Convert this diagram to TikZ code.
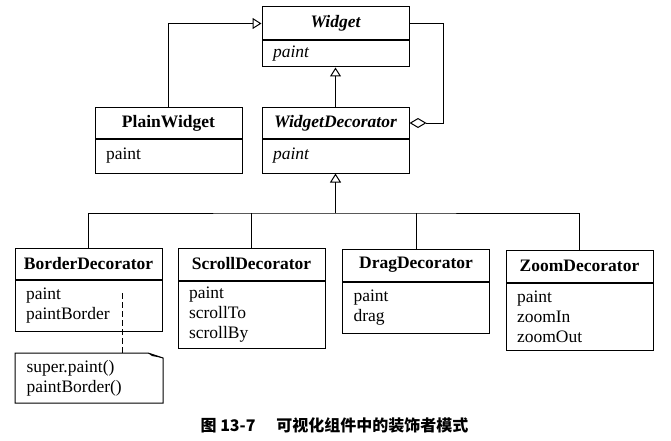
\documentclass[tikz,border=0pt]{standalone}
\usepackage{fontspec}
\setmainfont{Liberation Serif}
\newfontfamily\cjk{Noto Sans CJK SC}
\usetikzlibrary{positioning,arrows.meta}
\begin{document}
\fontsize{17.5}{20}\selectfont%
\begin{tikzpicture}[x=1pt, y=-1pt, line width=1pt,
  cls/.style={draw, minimum width=147pt, minimum height=32pt, inner sep=0pt, font=\bfseries},
  abstract/.style={cls, font=\bfseries\itshape},
  ops/.style={draw, text width=125pt, inner xsep=11pt, inner ysep=0pt, align=left},
  inherit/.style={-{Triangle[open, length=9pt, width=11pt]}},
  aggr/.style={{Diamond[open, length=17pt, width=10pt]}-}]
  \useasboundingbox (0,0) rectangle (671,441);

  % classes
  \node[abstract, minimum height=33pt] (widget) at (335.5,23.5) {Widget};
  \node[ops, minimum height=26pt, below=0pt of widget] (widget-ops) {\textit{paint}};
  \node[cls, minimum height=30pt] (plain) at (168.5,123) {PlainWidget};
  \node[ops, minimum height=34pt, below=0pt of plain] (plain-ops) {paint};
  \node[abstract, minimum height=30pt] (deco) at (335.5,123) {WidgetDecorator};
  \node[ops, minimum height=34pt, below=0pt of deco] (deco-ops) {\textit{paint}};

  \node[cls, minimum height=31pt] (border) at (88.5,263.5) {BorderDecorator};
  \node[ops, minimum height=51pt, below=0pt of border] (border-ops) {paint\\paintBorder};
  \node[cls] (scroll) at (251.5,264) {ScrollDecorator};
  \node[ops, minimum height=67pt, below=0pt of scroll] (scroll-ops) {paint\\scrollTo\\scrollBy};
  \node[cls] (drag) at (416,265) {DragDecorator};
  \node[ops, minimum height=51pt, below=0pt of drag] (drag-ops) {paint\\drag};
  \node[cls] (zoom) at (579.5,266) {ZoomDecorator};
  \node[ops, minimum height=67pt, below=0pt of zoom] (zoom-ops) {paint\\zoomIn\\zoomOut};

  % note
  \node[text width=125pt, inner xsep=11pt, inner ysep=0pt, minimum height=49pt, align=left, anchor=north west] (note) at (15,353) {super.paint()\\paintBorder()};
  \draw (note.north west) -- ([xshift=-15pt]note.north east) -- ([yshift=-5pt]note.north east)
    -- (note.south east) -- (note.south west) -- cycle;
  \fill ([xshift=-15pt]note.north east) -- ([yshift=-5pt]note.north east) -- ([xshift=-11pt,yshift=-3pt]note.north east) -- cycle;

  % connectors
  \draw[inherit] (plain.north) |- (widget.west);
  \draw[inherit] (deco.north) -- (widget-ops.south);
  \coordinate (agg) at (443,23.5);
  \draw[aggr] (deco.east) -| (agg) -- (widget.east);
  \coordinate (bar) at (335.5,213);
  \draw[inherit] (bar) -- (deco-ops.south);
  \draw (border.north) |- (bar) -| (zoom.north);
  \draw (scroll.north) -- (scroll.north |- bar);
  \draw (drag.north) -- (drag.north |- bar);
  \coordinate (impl) at (122,293);
  \draw[dashed, dash pattern=on 6pt off 3pt] (impl) -- (impl |- note.north);

  % caption
  \node[font={\fontsize{16}{18}\selectfont\cjk\bfseries}] (caption) at (334.5,425) {图 13-7\hspace{1.3em}可视化组件中的装饰者模式};
\end{tikzpicture}
\end{document}
